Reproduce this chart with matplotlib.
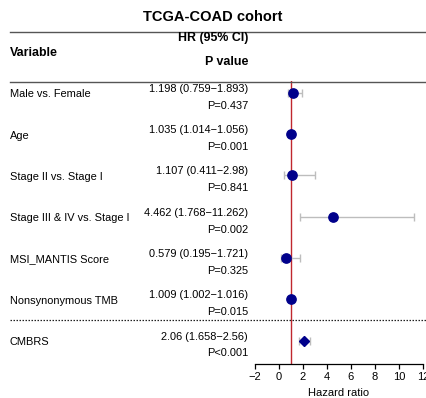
import matplotlib
matplotlib.use("Agg")
import matplotlib.pyplot as plt
from matplotlib.transforms import blended_transform_factory
from matplotlib.lines import Line2D

plt.rcParams['font.family'] = ['Liberation Sans', 'DejaVu Sans']

title = "TCGA-COAD cohort"
variables = ["Male vs. Female", "Age", "Stage II vs. Stage I", "Stage III & IV vs. Stage I",
             "MSI_MANTIS Score", "Nonsynonymous TMB", "CMBRS"]
hr = [1.198, 1.035, 1.107, 4.462, 0.579, 1.009, 2.06]
lo = [0.759, 1.014, 0.411, 1.768, 0.195, 1.002, 1.658]
hi = [1.893, 1.056, 2.98, 11.262, 1.721, 1.016, 2.56]
hr_text = ["1.198 (0.759\u22121.893)", "1.035 (1.014\u22121.056)", "1.107 (0.411\u22122.98)",
           "4.462 (1.768\u221211.262)", "0.579 (0.195\u22121.721)", "1.009 (1.002\u22121.016)",
           "2.06 (1.658\u22122.56)"]
p_text = ["P=0.437", "P=0.001", "P=0.841", "P=0.002", "P=0.325", "P=0.015", "P<0.001"]
xticks = [-2, 0, 2, 4, 6, 8, 10, 12]

W, H = 426, 398
fig = plt.figure(figsize=(W / 100, H / 100), dpi=100)

def fx(px):
    return px / W

def fy(py):
    return 1 - py / H

BODY = 7.9
HEAD = 8.9

# forest axes
AX_BOT, AX_TOP = 364, 81
ax = fig.add_axes([fx(255), fy(AX_BOT), fx(423) - fx(255), fy(AX_TOP) - fy(AX_BOT)])
ax.set_xlim(-2, 12)
row0, step = 92.7, 41.3
ax.set_ylim((AX_BOT - row0) / step, (AX_TOP - row0) / step)
for s in ["top", "right", "left"]:
    ax.spines[s].set_visible(False)
ax.spines["bottom"].set_linewidth(0.9)
ax.set_yticks([])
ax.set_xticks(xticks)
ax.set_xticklabels([str(t).replace("-", "\u2212") for t in xticks], fontsize=8)
ax.tick_params(axis="x", length=3.6, width=0.9, pad=2.5)
ax.set_xlabel("Hazard ratio", fontsize=8, va="baseline")
ax.xaxis.set_label_coords(0.5, (AX_BOT - 396) / (AX_BOT - AX_TOP))
ax.patch.set_alpha(0)

ax.axvline(1, color="#C0282E", lw=1.0, zorder=1)

n = len(variables)
ys = list(range(n))
for i in range(n):
    ax.errorbar(hr[i], ys[i], xerr=[[hr[i] - lo[i]], [hi[i] - hr[i]]], fmt="none",
                ecolor="#BDBDBD", elinewidth=1.0, capsize=3.2, capthick=1.0, zorder=2)
    marker = "D" if i == n - 1 else "o"
    ms = 5.4 if i == n - 1 else 6.7
    ax.plot(hr[i], ys[i], marker=marker, color="#00008B", ms=ms, zorder=3, ls="none")

tr = blended_transform_factory(fig.transFigure, ax.transData)
for i in range(n):
    ax.text(fx(10), ys[i] + 4.6 / step, variables[i], transform=tr, ha="left", va="baseline",
            fontsize=BODY, clip_on=False)
    ax.text(fx(248), ys[i] - 1.0 / step, hr_text[i], transform=tr, ha="right", va="baseline",
            fontsize=BODY, clip_on=False)
    ax.text(fx(248), ys[i] + 16.0 / step, p_text[i], transform=tr, ha="right", va="baseline",
            fontsize=BODY, clip_on=False)

# header
fig.text(fx(213), fy(21.3), title, ha="center", va="baseline", fontsize=10.5, fontweight="bold")
fig.text(fx(10), fy(56), "Variable", ha="left", va="baseline", fontsize=HEAD, fontweight="bold")
fig.text(fx(248), fy(41.3), "HR (95% CI)", ha="right", va="baseline", fontsize=HEAD, fontweight="bold")
fig.text(fx(248), fy(64.7), "P value", ha="right", va="baseline", fontsize=HEAD, fontweight="bold")

for py in [31.5, 81.5]:
    fig.add_artist(Line2D([fx(10), fx(426)], [fy(py), fy(py)], color="#555555", lw=1.0,
                          transform=fig.transFigure))
fig.add_artist(Line2D([fx(10), fx(426)], [fy(320), fy(320)], color="#222222", lw=0.9,
                      ls=(0, (1.2, 1.2)), transform=fig.transFigure))

fig.savefig("out.png", dpi=100)
